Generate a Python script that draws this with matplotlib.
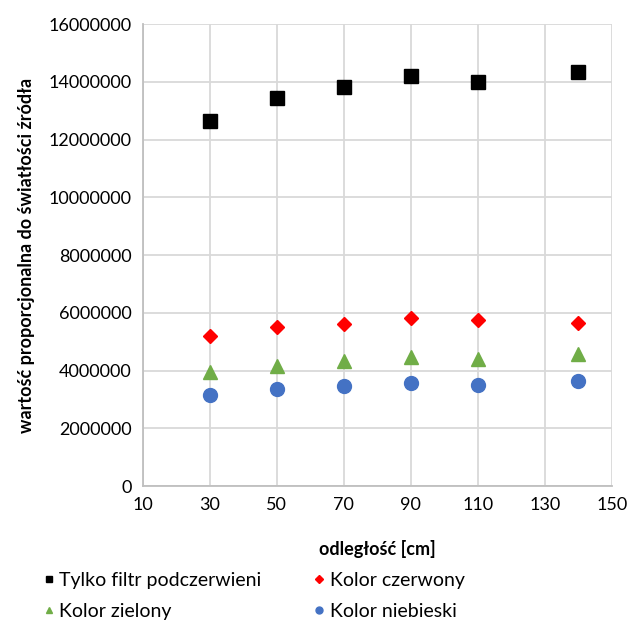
import numpy as np
import matplotlib.pyplot as plt

plt.rcParams['font.family'] = ['Lato', 'DejaVu Sans']

distance = [30, 50, 70, 90, 110, 140]
ir_only = [12650000, 13450000, 13830000, 14210000, 14000000, 14350000]
red = [5200000, 5530000, 5630000, 5820000, 5740000, 5670000]
green = [3950000, 4180000, 4320000, 4470000, 4390000, 4580000]
blue = [3160000, 3370000, 3460000, 3580000, 3520000, 3660000]

fig = plt.figure(figsize=(6.32, 6.21), dpi=100)
ax = fig.add_axes([0.226, 0.217, 0.742, 0.744])

h_ir, = ax.plot(distance, ir_only, ls='none', marker='s', ms=10, color='black',
                label='Tylko filtr podczerwieni')
h_r, = ax.plot(distance, red, ls='none', marker='D', ms=7.5, color='#ff0000',
               label='Kolor czerwony')
h_g, = ax.plot(distance, green, ls='none', marker='^', ms=10, color='#70ad47',
               label='Kolor zielony')
h_b, = ax.plot(distance, blue, ls='none', marker='o', ms=10, color='#4472c4',
               label='Kolor niebieski')

ax.set_xlim(10, 150)
ax.set_ylim(0, 16000000)
ax.set_xticks(np.arange(10, 151, 20))
ax.set_yticks(np.arange(0, 16000001, 2000000))
ax.yaxis.set_major_formatter(plt.FuncFormatter(lambda v, p: f"{int(v)}"))
ax.grid(True, color='#d9d9d9', lw=1.3)
ax.set_axisbelow(True)
for s in ['top', 'right']:
    ax.spines[s].set_visible(False)
for s in ['left', 'bottom']:
    ax.spines[s].set_color('#bfbfbf')
    ax.spines[s].set_linewidth(1.3)
ax.tick_params(length=0, labelsize=13, colors='#000000', pad=8)

ax.set_xlabel('odległość [cm]', fontsize=13, fontweight='bold', labelpad=19)
ax.set_ylabel('wartość proporcjonalna do światłości źródła', fontsize=13,
              fontweight='bold', labelpad=10)

# excel fills legend row by row
fig.legend(handles=[h_ir, h_g, h_r, h_b], loc='lower left',
           bbox_to_anchor=(0.043, -0.026), ncol=2,
           frameon=False, fontsize=14, markerscale=0.5, handlelength=0.45,
           handletextpad=0.3, columnspacing=2.75, labelspacing=0.72)

fig.savefig('out.png', dpi=100)
